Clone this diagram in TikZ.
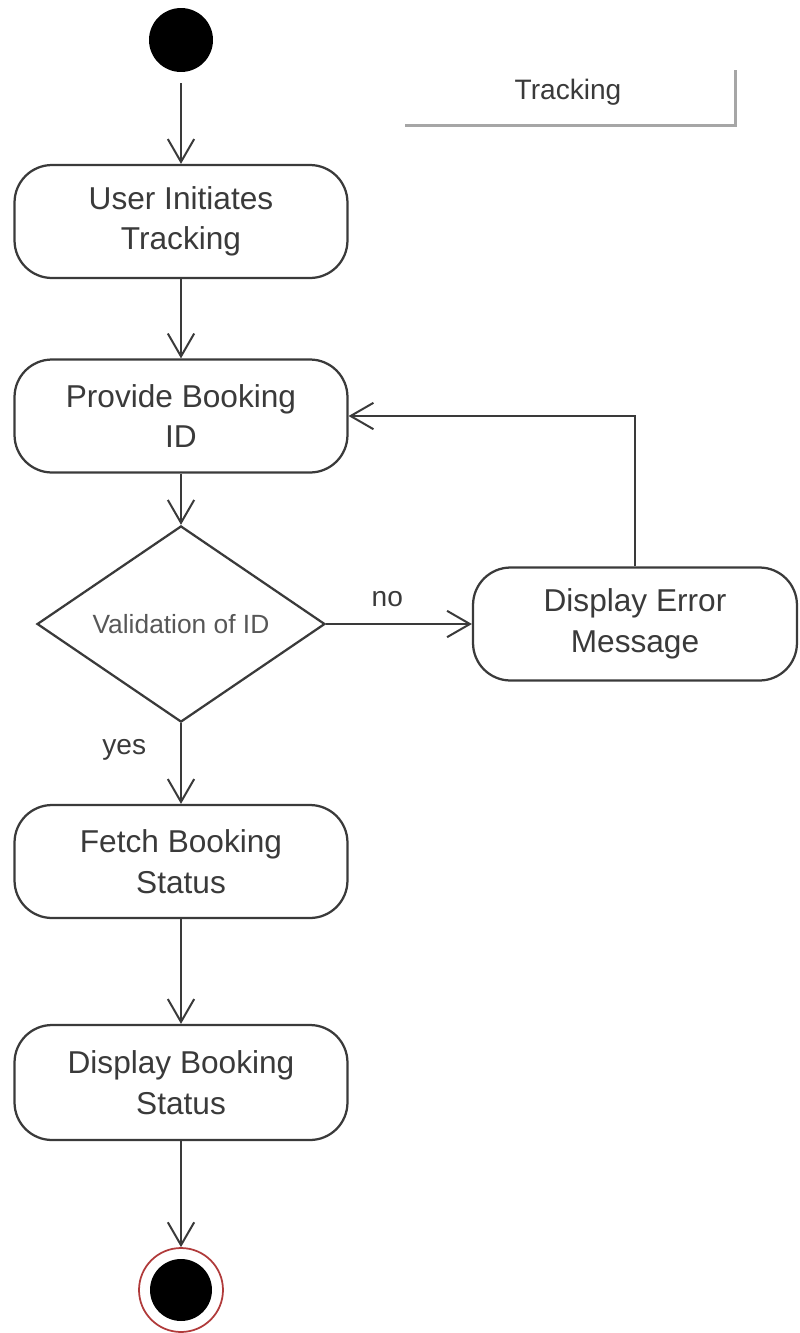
\documentclass[tikz,border=0pt]{standalone}
\usepackage{fontspec}
\setmainfont{Liberation Sans}
\usetikzlibrary{arrows.meta,shapes.geometric}
\definecolor{inkgrey}{HTML}{3A3A3A}
\definecolor{framegrey}{HTML}{A6A6A6}
\definecolor{ringred}{HTML}{B03A3A}
\tikzset{
	activity/.style={draw=inkgrey, line width=0.45mm, rounded corners=0.75cm, minimum width=6.66cm, minimum height=2.26cm, align=center, text=inkgrey, font=\fontsize{18}{23}\selectfont},
	decision/.style={draw=inkgrey, diamond, line width=0.45mm, minimum width=5.76cm, minimum height=2.76cm, inner sep=0pt, text=inkgrey!85, font=\fontsize{15}{18}\selectfont},
	flow/.style={draw=inkgrey, line width=0.4mm, -{Straight Barb[length=13pt,width=15pt]}},
	guard/.style={text=inkgrey, font=\fontsize{16}{19}\selectfont}
}

\begin{document}
\begin{tikzpicture}[x=0.02cm, y=-0.02cm]
		%%%%% START %%%%%
		\useasboundingbox (0, 0) rectangle (799, 1333);
		
		% swimlane title
		\node[text=inkgrey, font=\fontsize{16}{19}\selectfont] (lane) at (568, 92) {Tracking};
		\draw[framegrey, line width=0.6mm] (405, 125) -- (735, 125) -- (735, 70);
		
		% initial and final states
		\node[circle, fill=black, minimum size=1.28cm, inner sep=0pt] (start) at (181, 40) {};
		\node[circle, draw=ringred, fill=white, line width=0.35mm, minimum size=1.68cm, inner sep=0pt] (stop) at (181, 1290) {};
		\node[circle, fill=black, minimum size=1.24cm, inner sep=0pt] (stopdot) at (stop.center) {};
		
		% actions
		\node[activity] (user) at (181, 221.5) {User Initiates\\Tracking};
		\node[activity] (prov) at (181, 416) {Provide Booking\\ID};
		\node[decision] (valid) at (181, 624) {Validation of ID};
		\node[activity, minimum width=6.48cm] (err) at (635, 624) {Display Error\\Message};
		\node[activity] (fetch) at (181, 861.5) {Fetch Booking\\Status};
		\node[activity, minimum height=2.3cm] (show) at (181, 1082.5) {Display Booking\\Status};
		
		% control flow
		\draw[flow, shorten <=0.22cm] (start) -- (user);
		\draw[flow] (user) -- (prov);
		\draw[flow] (prov) -- (valid);
		\draw[flow] (valid) -- node[guard, above=0.2cm, pos=0.42] {no} (err);
		\draw[flow] (err.north) |- (prov.east);
		\draw[flow] (valid) -- node[guard, left=0.56cm, pos=0.33] {yes} (fetch);
		\draw[flow] (fetch) -- (show);
		\draw[flow] (show) -- (stop);
		
		%%%%% END %%%%%
	\end{tikzpicture}
\end{document}
